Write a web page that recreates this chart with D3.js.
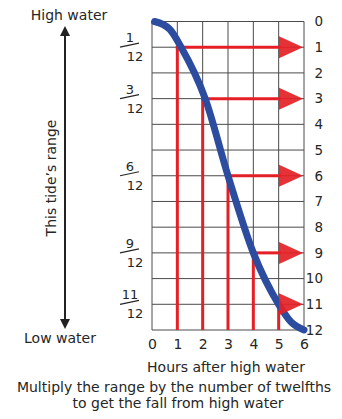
<!DOCTYPE html>
<html>
<head>
<meta charset="utf-8">
<script src="https://cdn.jsdelivr.net/npm/d3@7"></script>
<style>
  html, body { margin: 0; padding: 0; background: #fff; }
  svg { display: block; }
  text { font-family: "DejaVu Sans", Verdana, sans-serif; fill: #262626; }
</style>
</head>
<body>
<svg id="chart" width="342" height="419"></svg>
<script>
// Rule of twelfths: hours after high water and the fall (in twelfths of the range)
const hours = [0, 1, 2, 3, 4, 5, 6];
const levels = [0, 1, 2, 3, 4, 5, 6, 7, 8, 9, 10, 11, 12];
// Twelfths fallen by the end of each hour (arrows)
const arrowHours = [1, 2, 3, 4, 5];
const arrowTwelfths = [1, 3, 6, 9, 11];
// Fraction labels on the left side
const fracNumerators = ["1", "3", "6", "9", "11"];
const fracDenominators = ["12", "12", "12", "12", "12"];
// Tide curve samples (hour, twelfths fallen)
const curveHours = [0.1, 0.7, 1.15, 2.1, 3, 4, 5, 5.5, 6];
const curveTwelfths = [0, 0.3, 1, 3, 6, 9, 11, 11.7, 12];

const svg = d3.select("#chart");
const x = d3.scaleLinear().domain([0, 6]).range([152, 304]);
const y = d3.scaleLinear().domain([0, 12]).range([21.5, 330]);

const red = "#e41f26";
const blue = "#2b4c9f";
const gridColor = "#4a4a4a";

// grid
const grid = svg.append("g");
grid.selectAll("line.v").data(hours).join("line")
  .attr("x1", d => x(d)).attr("x2", d => x(d))
  .attr("y1", y(0)).attr("y2", y(12))
  .attr("stroke", gridColor).attr("stroke-width", 1);
grid.selectAll("line.h").data(levels).join("line")
  .attr("x1", x(0)).attr("x2", x(6))
  .attr("y1", d => y(d)).attr("y2", d => y(d))
  .attr("stroke", gridColor).attr("stroke-width", 1);

// right-hand scale of twelfths
const rightAxis = d3.axisRight(y).tickValues(levels).tickSize(0).tickPadding(0).tickFormat(d3.format("d"));
const ra = svg.append("g").attr("transform", `translate(${x(6) + 19},0)`).call(rightAxis);
ra.select(".domain").remove();
ra.selectAll("text").attr("text-anchor", "end").attr("x", 0)
  .style("font-size", "13.5px").style("font-family", "DejaVu Sans, Verdana, sans-serif").attr("fill", "#262626");

// bottom hour scale
const bottomAxis = d3.axisBottom(x).tickValues(hours).tickSize(0).tickPadding(0).tickFormat(d3.format("d"));
const ba = svg.append("g").attr("transform", `translate(0,${y(12) + 9})`).call(bottomAxis);
ba.select(".domain").remove();
ba.selectAll("text").attr("dy", "0.71em")
  .style("font-size", "14px").style("font-family", "DejaVu Sans, Verdana, sans-serif").attr("fill", "#262626");

// red drop lines and arrows
const arrows = arrowHours.map((h, i) => ({ h, t: arrowTwelfths[i] }));
const headLen = 24, headHalf = 11;
const tipX = x(6) - 1;
const redG = svg.append("g");
redG.selectAll("line.up").data(arrows).join("line")
  .attr("x1", d => x(d.h)).attr("x2", d => x(d.h))
  .attr("y1", y(12)).attr("y2", d => y(d.t) - 1.5)
  .attr("stroke", red).attr("stroke-width", 3);
redG.selectAll("line.across").data(arrows).join("line")
  .attr("x1", d => x(d.h) - 1.5).attr("x2", tipX - headLen + 2)
  .attr("y1", d => y(d.t)).attr("y2", d => y(d.t))
  .attr("stroke", red).attr("stroke-width", 3);

// tide curve
const pts = curveHours.map((h, i) => [x(h), y(curveTwelfths[i])]);
svg.append("path")
  .attr("d", d3.line().curve(d3.curveMonotoneX)(pts))
  .attr("fill", "none").attr("stroke", blue).attr("stroke-width", 7)
  .attr("stroke-linecap", "round");

// arrowheads
svg.append("g").selectAll("path").data(arrows).join("path")
  .attr("d", d => `M${tipX},${y(d.t)} L${tipX - headLen},${y(d.t) - headHalf} L${tipX - headLen},${y(d.t) + headHalf} Z`)
  .attr("fill", red).attr("opacity", 0.92);

// fractions on the left
const fr = svg.append("g");
arrowTwelfths.forEach((t, i) => {
  const yy = y(t);
  fr.append("text").attr("x", 130).attr("y", yy - 5).attr("text-anchor", "middle")
    .style("font-size", "13px").text(fracNumerators[i]);
  fr.append("line").attr("x1", 120).attr("y1", yy).attr("x2", 139).attr("y2", yy - 4)
    .attr("stroke", "#262626").attr("stroke-width", 1.2);
  fr.append("text").attr("x", 135).attr("y", yy + 14).attr("text-anchor", "middle")
    .style("font-size", "13px").text(fracDenominators[i]);
});

// range arrow
const ax = 65, aTop = 26, aBot = 329;
svg.append("line").attr("x1", ax).attr("x2", ax).attr("y1", aTop + 6).attr("y2", aBot - 6)
  .attr("stroke", "#222").attr("stroke-width", 2);
svg.append("path").attr("d", `M${ax},${aTop} L${ax - 5},${aTop + 10} L${ax + 5},${aTop + 10} Z`).attr("fill", "#222");
svg.append("path").attr("d", `M${ax},${aBot} L${ax - 5},${aBot - 10} L${ax + 5},${aBot - 10} Z`).attr("fill", "#222");

// labels
svg.append("text").attr("x", 69).attr("y", 20).attr("text-anchor", "middle")
  .style("font-size", "14px").text("High water");
svg.append("text").attr("x", 60).attr("y", 343).attr("text-anchor", "middle")
  .style("font-size", "14px").text("Low water");
svg.append("text").attr("transform", "translate(56,178) rotate(-90)").attr("text-anchor", "middle")
  .style("font-size", "14px").text("This tide\u2019s range");
svg.append("text").attr("x", 226).attr("y", 372).attr("text-anchor", "middle")
  .style("font-size", "14px").text("Hours after high water");
svg.append("text").attr("x", 174).attr("y", 392).attr("text-anchor", "middle")
  .style("font-size", "14px").text("Multiply the range by the number of twelfths");
svg.append("text").attr("x", 178).attr("y", 408).attr("text-anchor", "middle")
  .style("font-size", "14px").text("to get the fall from high water");
</script>
</body>
</html>
